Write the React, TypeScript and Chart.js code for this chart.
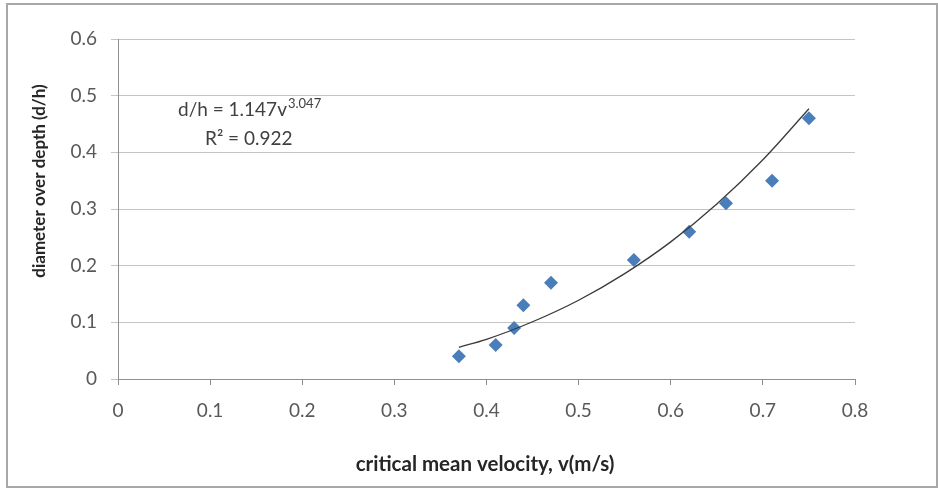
import React, { useEffect, useRef } from 'react';
import { Chart, registerables } from 'chart.js';

Chart.register(...registerables);

const velocity = [0.37, 0.41, 0.43, 0.44, 0.47, 0.56, 0.62, 0.66, 0.71, 0.75];
const depthRatio = [0.04, 0.06, 0.09, 0.13, 0.17, 0.21, 0.26, 0.31, 0.35, 0.46];
const trendVelocity = [0.37, 0.4, 0.45, 0.5, 0.55, 0.6, 0.65, 0.7, 0.75];
const trendRatio = [0.056, 0.07, 0.101, 0.139, 0.186, 0.242, 0.309, 0.387, 0.477];
const xTitle = 'critical mean velocity, v(m/s)';
const yTitle = 'diameter over depth (d/h)';
const eqMain = 'd/h = 1.147v';
const eqExp = '3.047';
const r2Text = 'R\u00B2 = 0.922';

const FONT = 'Lato, "Open Sans", sans-serif';

const decorPlugin = {
  id: 'decor',
  beforeDraw(chart: any) {
    const ctx = chart.ctx;
    ctx.save();
    ctx.fillStyle = '#ffffff';
    ctx.fillRect(0, 0, chart.width, chart.height);
    ctx.strokeStyle = '#a8a8a8';
    ctx.lineWidth = 2;
    ctx.strokeRect(7, 4, chart.width - 8, chart.height - 6);
    ctx.restore();
  },
  afterDraw(chart: any) {
    const ctx = chart.ctx;
    ctx.save();
    ctx.fillStyle = '#262626';
    ctx.textAlign = 'center';
    ctx.textBaseline = 'middle';
    ctx.font = `bold 20.5px ${FONT}`;
    ctx.fillText(xTitle, 485, 464);
    ctx.font = `bold 17px ${FONT}`;
    ctx.translate(40, 181);
    ctx.rotate(-Math.PI / 2);
    ctx.fillText(yTitle, 0, 0);
    ctx.restore();

    ctx.save();
    ctx.fillStyle = '#404040';
    ctx.textAlign = 'left';
    ctx.textBaseline = 'alphabetic';
    ctx.font = `19px ${FONT}`;
    ctx.fillText(eqMain, 178, 116);
    const w = ctx.measureText(eqMain).width;
    ctx.font = `13px ${FONT}`;
    ctx.fillText(eqExp, 178 + w + 1, 108);
    ctx.font = `19px ${FONT}`;
    ctx.fillText(r2Text, 205, 145);
    ctx.restore();
  },
};

const fmt = (v: number) => (Math.abs(v) < 1e-9 ? '0' : Number(v).toFixed(1));

export default function App() {
  const ref = useRef<HTMLCanvasElement | null>(null);
  useEffect(() => {
    if (!ref.current) return;
    const chart = new Chart(ref.current, {
      type: 'scatter',
      data: {
        datasets: [
          {
            label: 'trend',
            data: trendVelocity.map((x, i) => ({ x, y: trendRatio[i] })),
            showLine: true,
            borderColor: '#3a3a3a',
            borderWidth: 1.3,
            pointRadius: 0,
            cubicInterpolationMode: 'monotone',
            fill: false,
          } as any,
          {
            label: 'data',
            data: velocity.map((x, i) => ({ x, y: depthRatio[i] })),
            pointStyle: 'rectRot',
            pointRadius: 7,
            backgroundColor: '#4a7ebb',
            borderColor: '#4a7ebb',
            borderWidth: 0,
          } as any,
        ],
      },
      options: {
        responsive: false,
        animation: false,
        devicePixelRatio: 1,
        layout: { padding: { top: 39, right: 83, left: 0, bottom: 0 } },
        plugins: { legend: { display: false }, tooltip: { enabled: false } },
        scales: {
          x: {
            type: 'linear',
            min: 0,
            max: 0.8,
            afterFit: (s: any) => {
              s.height = 110;
            },
            ticks: {
              stepSize: 0.1,
              callback: (v: any) => fmt(v),
              color: '#595959',
              font: { family: FONT, size: 19 },
              padding: 14,
            },
            grid: {
              drawOnChartArea: false,
              drawTicks: true,
              tickLength: 6,
              color: '#8f8f8f',
            },
            border: { display: true, color: '#8f8f8f', width: 1 },
          },
          y: {
            type: 'linear',
            min: 0,
            max: 0.6,
            afterFit: (s: any) => {
              s.width = 118;
            },
            ticks: {
              stepSize: 0.1,
              callback: (v: any) => fmt(v),
              color: '#595959',
              font: { family: FONT, size: 19 },
              padding: 14,
            },
            grid: {
              drawOnChartArea: true,
              drawTicks: true,
              tickLength: 7,
              color: '#c4c4c4',
            },
            border: { display: true, color: '#8f8f8f', width: 1 },
          },
        },
      },
      plugins: [decorPlugin],
    } as any);
    return () => chart.destroy();
  }, []);
  return (
    <div style={{ position: 'absolute', left: 0, top: 0, width: 938, height: 489 }}>
      <canvas ref={ref} width={938} height={489} />
    </div>
  );
}
